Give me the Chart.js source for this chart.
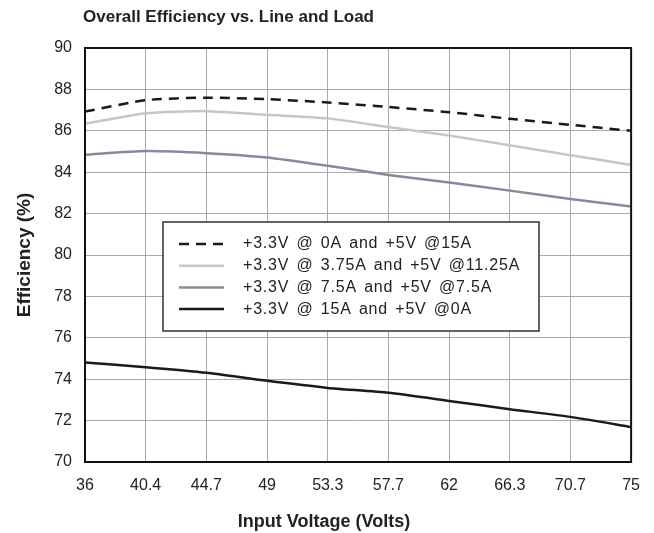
<!DOCTYPE html>
<html>
<head>
<meta charset="utf-8">
<title>Overall Efficiency vs. Line and Load</title>
<script src="https://cdn.jsdelivr.net/npm/chart.js@4.4.1/dist/chart.umd.min.js"></script>
<style>
  html, body { margin: 0; padding: 0; background: #fff; }
  #wrap { width: 654px; height: 533px; }
</style>
</head>
<body>
<div id="wrap"><canvas id="chart" width="654" height="533"></canvas></div>
<script>
// Input voltage steps (x axis categories)
const voltage = ['36', '40.4', '44.7', '49', '53.3', '57.7', '62', '66.3', '70.7', '75'];

// Efficiency (%) for each load split
const eff0A = [86.93, 87.48, 87.6, 87.53, 87.37, 87.15, 86.9, 86.58, 86.29, 86.0];
const eff375A = [86.34, 86.85, 86.95, 86.77, 86.6, 86.18, 85.77, 85.3, 84.82, 84.35];
const eff75A = [84.84, 85.02, 84.92, 84.71, 84.31, 83.87, 83.5, 83.11, 82.71, 82.34];
const eff15A = [74.81, 74.58, 74.31, 73.92, 73.58, 73.34, 72.95, 72.55, 72.18, 71.69];

const seriesLabels = [
  '+3.3V @ 0A and +5V @15A',
  '+3.3V @ 3.75A and +5V @11.25A',
  '+3.3V @ 7.5A and +5V @7.5A',
  '+3.3V @ 15A and +5V @0A'
];

const FONT = '"Liberation Sans", Arial, Helvetica, sans-serif';

// frame, title, x axis title and the boxed legend inside the plot
const decorPlugin = {
  id: 'decor',
  beforeDraw(chart) {
    const ctx = chart.ctx;
    ctx.save();
    ctx.fillStyle = '#fff';
    ctx.fillRect(0, 0, chart.width, chart.height);
    ctx.restore();
  },
  afterDraw(chart) {
    const ctx = chart.ctx;
    const a = chart.chartArea;
    ctx.save();

    // plot frame
    ctx.strokeStyle = '#111';
    ctx.lineWidth = 2;
    ctx.strokeRect(a.left, a.top, a.right - a.left, a.bottom - a.top);

    // chart title
    ctx.fillStyle = '#222';
    ctx.font = 'bold 17px ' + FONT;
    ctx.textAlign = 'left';
    ctx.textBaseline = 'alphabetic';
    ctx.fillText('Overall Efficiency vs. Line and Load', a.left - 2, 22);

    // x axis title
    ctx.font = 'bold 18px ' + FONT;
    ctx.textAlign = 'center';
    ctx.fillText('Input Voltage (Volts)', a.left + 239, a.bottom + 65);

    // legend box
    const bx = a.left + 78, by = a.top + 174, bw = 376, bh = 109;
    ctx.fillStyle = '#fff';
    ctx.fillRect(bx, by, bw, bh);
    ctx.strokeStyle = '#333';
    ctx.lineWidth = 1.5;
    ctx.strokeRect(bx, by, bw, bh);

    ctx.font = '16px ' + FONT;
    ctx.textAlign = 'left';
    ctx.textBaseline = 'middle';
    if ('letterSpacing' in ctx) ctx.letterSpacing = '0.8px';
    if ('wordSpacing' in ctx) ctx.wordSpacing = '2px';
    chart.data.datasets.forEach((ds, i) => {
      const y = by + 22 + i * 21.7;
      ctx.beginPath();
      ctx.strokeStyle = ds.borderColor;
      ctx.lineWidth = ds.borderWidth;
      ctx.setLineDash(ds.borderDash || []);
      ctx.moveTo(bx + 16, y);
      ctx.lineTo(bx + 61, y);
      ctx.stroke();
      ctx.setLineDash([]);
      ctx.fillStyle = '#222';
      ctx.fillText(ds.label, bx + 80, y);
    });
    ctx.restore();
  }
};

new Chart(document.getElementById('chart'), {
  type: 'line',
  data: {
    labels: voltage,
    datasets: [
      { label: seriesLabels[0], data: eff0A, borderColor: '#1a1a1a', borderWidth: 2.5, borderDash: [10, 7] },
      { label: seriesLabels[1], data: eff375A, borderColor: '#c6c6c6', borderWidth: 2.5 },
      { label: seriesLabels[2], data: eff75A, borderColor: '#878a9c', borderWidth: 2.5 },
      { label: seriesLabels[3], data: eff15A, borderColor: '#1a1a1a', borderWidth: 2.5 }
    ]
  },
  options: {
    responsive: false,
    animation: false,
    layout: { padding: { top: 48, right: 22, left: 0, bottom: 0 } },
    elements: {
      point: { radius: 0 },
      line: { tension: 0.2, fill: false }
    },
    plugins: {
      legend: { display: false },
      title: { display: false },
      tooltip: { enabled: false }
    },
    scales: {
      x: {
        type: 'category',
        offset: false,
        afterFit(s) { s.height = 71; },
        grid: { color: '#aaaaaa', lineWidth: 1, drawTicks: false, offset: false },
        border: { display: false },
        ticks: {
          autoSkip: false,
          maxRotation: 0,
          padding: 14,
          color: '#222',
          font: { family: FONT, size: 16 }
        }
      },
      y: {
        min: 70,
        max: 90,
        afterFit(s) { s.width = 85; },
        grid: { color: '#aaaaaa', lineWidth: 1, drawTicks: false },
        border: { display: false },
        ticks: {
          stepSize: 2,
          padding: 13,
          color: '#222',
          font: { family: FONT, size: 16 }
        },
        title: {
          display: true,
          text: 'Efficiency (%)',
          color: '#222',
          font: { family: FONT, size: 19, weight: 'bold' },
          padding: { top: 13, bottom: 0 }
        }
      }
    }
  },
  plugins: [decorPlugin]
});
</script>
</body>
</html>
